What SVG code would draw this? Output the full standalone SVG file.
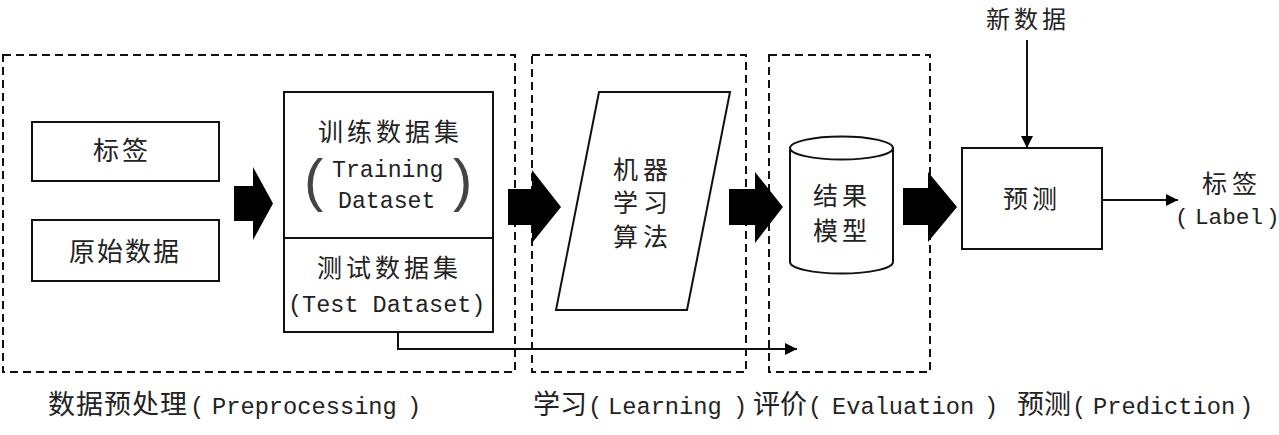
<svg xmlns="http://www.w3.org/2000/svg" width="1279" height="435" viewBox="0 0 1279 435">
<style>
.bg{fill:#fff}
.dash{fill:none;stroke:#111;stroke-width:2;stroke-dasharray:8 5}
.box{fill:#fff;stroke:#111;stroke-width:2}
.line{fill:none;stroke:#111;stroke-width:2}
.big{fill:#000}
.cjk{font-family:"Noto Sans CJK SC","Noto Sans CJK JP",sans-serif;font-size:25px;fill:#222;letter-spacing:4px}
.lat{font-family:"Liberation Mono","DejaVu Sans Mono",monospace;font-size:23.2px;fill:#222}
.lbl{font-family:"Noto Sans CJK SC",sans-serif;font-size:27px;fill:#222}
.lbll{font-family:"Liberation Mono",monospace;font-size:23.7px;fill:#222}
.par{font-family:"Liberation Sans",sans-serif;font-size:58px;fill:#444}
</style>
<defs>
<marker id="ah" markerWidth="12" markerHeight="12" refX="12" refY="6" orient="auto" markerUnits="userSpaceOnUse">
<path d="M0,0 L12,6 L0,12 Z" fill="#000"/>
</marker>
</defs>
<rect class="bg" x="0" y="0" width="1279" height="435"/>

<g id="stages">
<rect class="dash" x="3" y="55" width="512" height="317"/>
<rect class="dash" x="532" y="55" width="214" height="317"/>
<rect class="dash" x="769" y="55" width="161" height="317"/>
</g>

<g id="node-label">
<rect class="box" x="32" y="122" width="187" height="59"/>
<text class="cjk" x="93" y="160" style="font-size:26px;letter-spacing:3px">标签</text>
</g>

<g id="node-raw">
<rect class="box" x="32" y="220" width="187" height="61"/>
<text class="cjk" x="69" y="261" style="font-size:26px;letter-spacing:2px">原始数据</text>
</g>

<g id="node-dataset">
<rect class="box" x="284" y="92" width="209" height="240"/>
<line class="line" x1="284" y1="238" x2="493" y2="238"/>
<text class="cjk" x="318" y="141">训练数据集</text>
<text class="par" x="304" y="200">(</text>
<text class="lat" x="332" y="177">Training</text>
<text class="lat" x="338" y="208">Dataset</text>
<text class="par" x="453" y="200">)</text>
<text class="cjk" x="317" y="277">测试数据集</text>
<text class="lat" x="288" y="312" style="font-size:23.5px">(Test Dataset)</text>
</g>

<g id="node-algorithm">
<polygon class="box" points="599,92 730,92 687,310 556,310"/>
<text class="cjk" x="613" y="179" style="letter-spacing:5px">机器</text>
<text class="cjk" x="613" y="212" style="letter-spacing:5px">学习</text>
<text class="cjk" x="613" y="246" style="letter-spacing:5px">算法</text>
</g>

<g id="node-model">
<path class="box" d="M790,148 L790,262 A51.5,11.5 0 0 0 893,262 L893,148 Z"/>
<ellipse class="box" cx="841.5" cy="148" rx="51.5" ry="11.5"/>
<text class="cjk" x="813" y="205">结果</text>
<text class="cjk" x="813" y="240">模型</text>
</g>

<g id="node-predict">
<rect class="box" x="962" y="148" width="140" height="101"/>
<text class="cjk" x="1003" y="208">预测</text>
</g>

<g id="node-newdata">
<text class="cjk" x="986" y="28" style="font-size:24px">新数据</text>
</g>

<g id="node-output">
<text class="cjk" x="1202" y="193" style="letter-spacing:5px">标签</text>
<text class="lat" y="224" style="font-size:22.7px"><tspan x="1175">(</tspan><tspan x="1195">Label</tspan><tspan x="1266">)</tspan></text>
</g>

<g id="connectors">
<polygon class="big" points="234,186 253,186 253,167 273,203.5 253,240 253,221 234,221"/>
<polygon class="big" points="508,189 532,189 532,170 561,207 532,243 532,225 508,225"/>
<polygon class="big" points="729,189 755,189 755,172 783,207 755,243 755,225 729,225"/>
<polygon class="big" points="903,188 928,188 928,172 957,207 928,242 928,225 903,225"/>
<polyline class="line" points="398,332 398,349 797,349" marker-end="url(#ah)"/>
<line class="line" x1="1027" y1="40" x2="1027" y2="148" marker-end="url(#ah)"/>
<line class="line" x1="1102" y1="200" x2="1178" y2="200" marker-end="url(#ah)"/>
</g>

<g id="stage-labels">
<text class="lbl" x="48" y="414" style="letter-spacing:1px">数据预处理</text>
<text class="lbll" y="414"><tspan x="190">(</tspan><tspan x="212">Preprocessing</tspan><tspan x="407">)</tspan></text>
<text class="lbl" x="533" y="414">学习</text>
<text class="lbll" y="414"><tspan x="588">(</tspan><tspan x="608">Learning</tspan><tspan x="733">)</tspan></text>
<text class="lbl" x="753" y="414">评价</text>
<text class="lbll" y="414"><tspan x="808">(</tspan><tspan x="832">Evaluation</tspan><tspan x="984">)</tspan></text>
<text class="lbl" x="1017" y="414">预测</text>
<text class="lbll" y="414"><tspan x="1072">(</tspan><tspan x="1093">Prediction</tspan><tspan x="1239">)</tspan></text>
</g>
</svg>
